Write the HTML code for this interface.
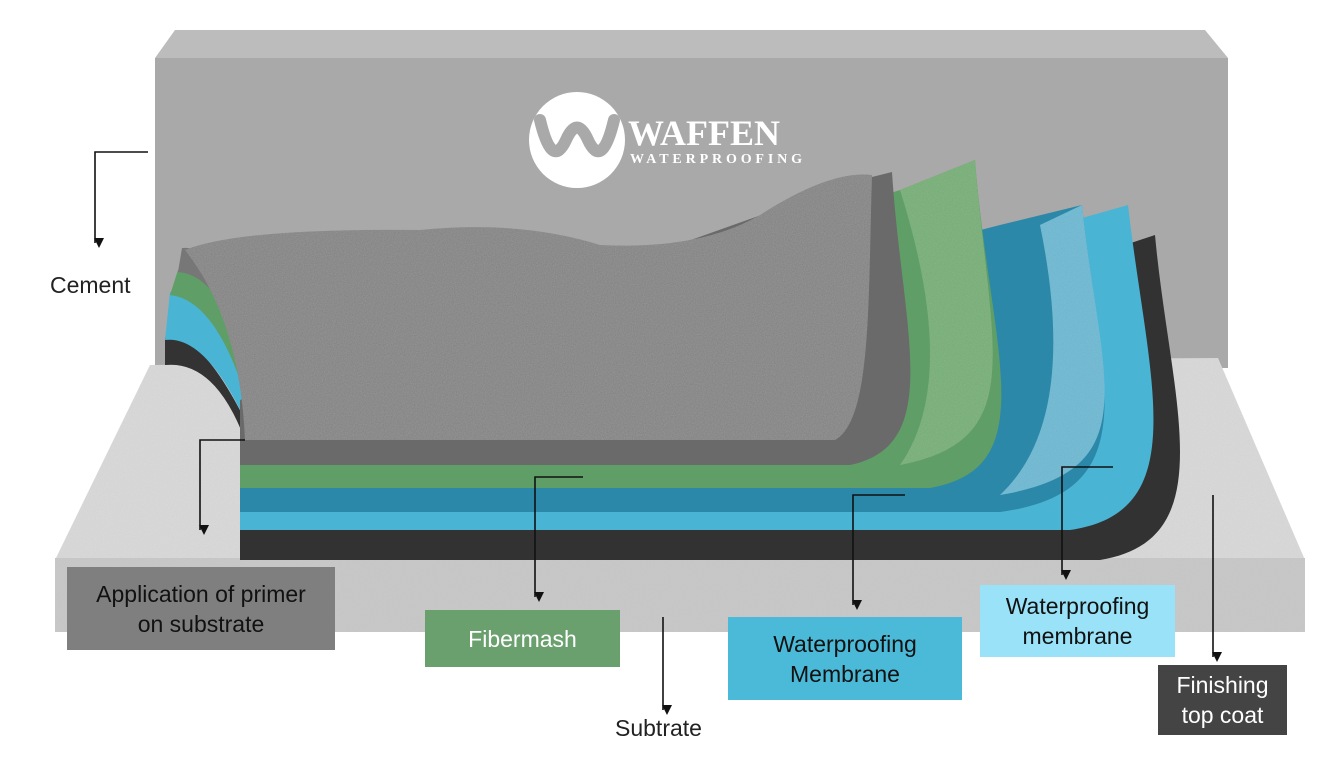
<!DOCTYPE html>
<html><head><meta charset="utf-8"><style>
html,body{margin:0;padding:0;background:#fff;}
body{width:1331px;height:766px;overflow:hidden;position:relative;font-family:"Liberation Sans",sans-serif;}
.lbl{position:absolute;display:flex;align-items:center;justify-content:center;text-align:center;font-size:23px;line-height:30px;}
</style></head><body>
<svg width="1331" height="766" style="position:absolute;left:0;top:0">
<defs>
<filter id="n" x="0" y="0" width="100%" height="100%">
<feTurbulence type="fractalNoise" baseFrequency="0.9" numOctaves="2" result="t"/>
<feColorMatrix in="t" type="matrix" values="0 0 0 0 0.5  0 0 0 0 0.5  0 0 0 0 0.5  0 0 0 0.35 0" result="c"/>
<feComposite in="c" in2="SourceGraphic" operator="in" result="m"/>
<feMerge><feMergeNode in="SourceGraphic"/><feMergeNode in="m"/></feMerge>
</filter>
<marker id="a" markerWidth="10" markerHeight="10" refX="5" refY="9" orient="auto" markerUnits="userSpaceOnUse" viewBox="0 0 10 10"><path d="M0,0 L10,0 L5,10 Z" fill="#111" transform="rotate(-90 5 5)"/></marker>
</defs>
<polygon points="155,58 175,30 1205,30 1228,58" fill="#bdbcbc"/>
<rect x="155" y="58" width="1073" height="310" fill="#aaa9a9"/>
<polygon points="150,365 1218,358 1305,560 55,560" fill="#dcdcdc" filter="url(#n)"/>
<rect x="55" y="558" width="1250" height="74" fill="#c9c9c9" filter="url(#n)"/>
<path d="M165,338 Q200,330 245,420 L245,440 Q215,360 165,365 Z" fill="#333"/>
<path d="M170,292 Q215,290 245,390 L245,420 Q205,335 165,340 Z" fill="#4ab4d4"/>
<path d="M178,270 Q220,265 245,360 L245,395 Q215,300 170,295 Z" fill="#5f9e66"/>
<path d="M182,248 Q225,245 245,330 L245,362 Q220,275 178,272 Z" fill="#777"/>
<path d="M240,440 L1125,245 L1155,235 C1170,400 1225,540 1100,560 L240,560 Z" fill="#333232"/>
<path d="M240,430 L1075,220 L1128,205 C1148,380 1195,512 1070,530 L240,530 Z" fill="#4ab4d4"/>
<path d="M240,420 L1000,225 L1082,205 C1100,380 1150,492 1000,512 L240,512 Z" fill="#2b88a8"/>
<path d="M1040,225 L1082,205 C1100,380 1150,470 1000,495 Q1080,420 1040,225 Z" fill="#5bb9d6" filter="url(#n)"/>
<path d="M240,410 L900,190 L975,160 C990,350 1045,468 930,488 L240,488 Z" fill="#5f9e66"/>
<path d="M900,190 L975,160 C990,350 1030,440 900,465 Q960,380 900,190 Z" fill="#6aae6a" filter="url(#n)"/>
<path d="M240,400 L860,180 L892,172 C902,330 945,445 850,465 L240,465 Z" fill="#6a6a6a"/>
<path d="M185,250 Q240,228 420,230 Q520,220 600,245 Q700,250 760,215 Q830,170 872,175 C868,300 872,420 835,440 L245,440 Q240,320 185,250 Z" fill="#7f7f7f" filter="url(#n)"/>
<circle cx="577" cy="140" r="48" fill="#fff"/>
<path d="M540,120 Q552,170 566,140 Q577,115 588,140 Q602,170 614,120" fill="none" stroke="#aaa9a9" stroke-width="12" stroke-linecap="round"/>
<text x="628" y="145" font-family="Liberation Serif,serif" font-weight="bold" font-size="36" fill="#fff">WAFFEN</text>
<text x="630" y="163" font-family="Liberation Serif,serif" font-weight="bold" font-size="14" fill="#fff" textLength="172">WATERPROOFING</text>
<g stroke="#111" stroke-width="1.6" fill="none" marker-end="url(#a)">
<polyline points="148,152 95,152 95,243"/>
<polyline points="245,440 200,440 200,530"/>
<polyline points="583,477 535,477 535,597"/>
<polyline points="905,495 853,495 853,605"/>
<polyline points="1113,467 1062,467 1062,575"/>
<polyline points="1213,495 1213,657"/>
<polyline points="663,617 663,710"/>
</g>
</svg>
<div class="lbl" style="left:50px;top:270px;color:#222;">Cement</div>
<div class="lbl" style="left:67px;top:567px;width:268px;height:83px;background:#7f7f7f;color:#111;">Application of primer<br>on substrate</div>
<div class="lbl" style="left:425px;top:610px;width:195px;height:57px;background:#6aa06e;color:#fff;">Fibermash</div>
<div class="lbl" style="left:728px;top:617px;width:234px;height:83px;background:#4bbad8;color:#111;">Waterproofing<br>Membrane</div>
<div class="lbl" style="left:980px;top:585px;width:195px;height:72px;background:#99e2f7;color:#111;">Waterproofing<br>membrane</div>
<div class="lbl" style="left:1158px;top:665px;width:129px;height:70px;background:#444;color:#fff;">Finishing<br>top coat</div>
<div class="lbl" style="left:615px;top:713px;color:#222;">Subtrate</div>
</body></html>
